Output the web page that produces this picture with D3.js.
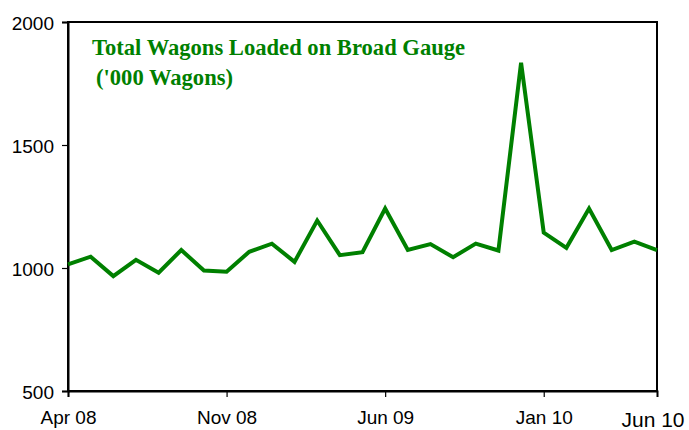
<!DOCTYPE html>
<html>
<head>
<meta charset="utf-8">
<script src="https://cdn.jsdelivr.net/npm/d3@7"></script>
<style>
body { margin: 0; background: #fff; }
svg { display: block; }
</style>
</head>
<body>
<script>
let width = 689;
let height = 430;

// monthly wagons loaded, Apr 08 .. Jun 10 ('000 wagons)
let months = ['Apr 08','May 08','Jun 08','Jul 08','Aug 08','Sep 08','Oct 08','Nov 08','Dec 08',
  'Jan 09','Feb 09','Mar 09','Apr 09','May 09','Jun 09','Jul 09','Aug 09','Sep 09','Oct 09',
  'Nov 09','Dec 09','Jan 10','Feb 10','Mar 10','Apr 10','May 10','Jun 10'];
let wagons = [1015, 1046, 967, 1033, 981, 1073, 990, 985, 1066,
  1099, 1025, 1193, 1052, 1064, 1242, 1073, 1097, 1044, 1099,
  1071, 1834, 1144, 1082, 1242, 1073, 1107, 1073];
let tickMonths = ['Apr 08', 'Nov 08', 'Jun 09', 'Jan 10', 'Jun 10'];
let yTicks = [500, 1000, 1500, 2000];

let plotL = 68, plotR = 657, plotT = 22, plotB = 391;

let x = d3.scalePoint()
.domain(months)
.range([plotL, plotR]);

let y = d3.scaleLinear()
.domain([500, 2000])
.range([plotB, plotT]);

let svg = d3.select('body')
.append('svg')
.attr('width', width)
.attr('height', height);

// frame
svg.append('rect')
.attr('x', plotL)
.attr('y', plotT)
.attr('width', plotR - plotL)
.attr('height', plotB - plotT)
.attr('fill', 'none')
.attr('stroke', '#000')
.attr('stroke-width', 2);

let yAxis = svg.append('g')
.attr('transform', 'translate(' + plotL + ',0)')
.call(d3.axisLeft(y).tickValues(yTicks).tickSize(6).tickPadding(8).tickFormat(d3.format('d')));

let xAxis = svg.append('g')
.attr('transform', 'translate(0,' + plotB + ')')
.call(d3.axisBottom(x).tickValues(tickMonths.slice(0, 4)).tickSize(6).tickPadding(0));

[yAxis, xAxis].forEach(function(g){
    g.attr('font-size', 19).attr('font-family', 'Liberation Sans, Arial, sans-serif');
    g.select('.domain').attr('stroke-width', 2);
    g.selectAll('.tick line').attr('stroke-width', 1.2);
    g.selectAll('text').attr('fill', '#000');
});
xAxis.selectAll('text').attr('y', 33).attr('dy', null);
yAxis.selectAll('text').attr('dy', '0.38em');

// last label is drawn larger in the original
svg.append('text')
.attr('x', x('Jun 10') - 4)
.attr('y', 427)
.attr('text-anchor', 'middle')
.attr('font-family', 'Liberation Sans, Arial, sans-serif')
.attr('font-size', 21)
.text('Jun 10');

let line = d3.line()
.x(function(d, i){ return x(months[i]); })
.y(function(d){ return y(d); });

svg.append('path')
.datum(wagons)
.attr('d', line)
.attr('fill', 'none')
.attr('stroke', '#008000')
.attr('stroke-width', 4)
.attr('stroke-linejoin', 'miter');

let title = svg.append('text')
.attr('font-family', 'Liberation Serif, Times New Roman, serif')
.attr('font-weight', 'bold')
.attr('font-size', 22.6)
.attr('fill', '#008000');

title.append('tspan').attr('x', 92).attr('y', 55).text('Total Wagons Loaded on Broad Gauge');
title.append('tspan').attr('x', 96).attr('y', 85).text("('000 Wagons)");
</script>
</body>
</html>
